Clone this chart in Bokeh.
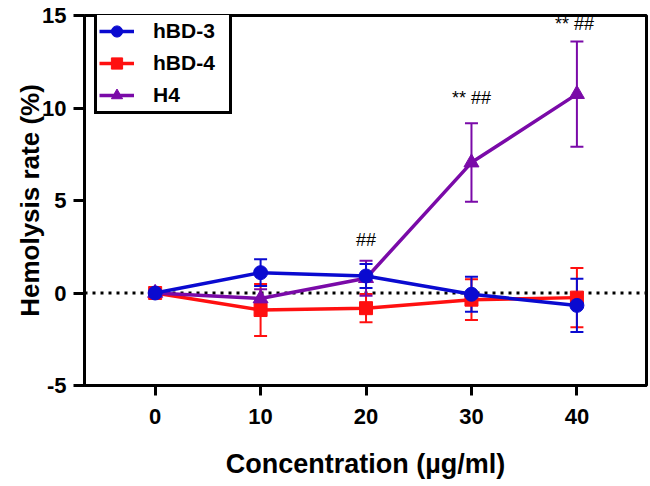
from bokeh.plotting import figure
from bokeh.models import ColumnDataSource, Whisker, TeeHead, Span, Legend, LegendItem, FixedTicker
from bokeh.core.properties import value
from bokeh.embed import file_html
from bokeh.resources import INLINE

# ---- data ----
conc = [0, 10, 20, 30, 40]
hbd3_mean = [0.0, 1.1, 0.92, -0.07, -0.67]
hbd3_err = [0.0, 0.72, 0.65, 0.95, 1.44]
hbd4_mean = [0.0, -0.92, -0.82, -0.36, -0.25]
hbd4_err = [0.0, 1.4, 0.76, 1.1, 1.6]
h4_mean = [0.0, -0.3, 0.8, 7.05, 10.75]
h4_err = [0.0, 0.5, 0.95, 2.12, 2.85]

series_names = ["hBD-3", "hBD-4", "H4"]
series_colors = ["#0a0ad0", "#ff1010", "#7a0aa8"]

ann_x = [20, 30, 40]
ann_y = [2.35, 10.0, 14.0]
ann_text = ["##", "** ##", "**  ##"]

x_ticks = [0, 10, 20, 30, 40]
x_tick_labels = ["0", "10", "20", "30", "40"]
y_ticks = [-5, 0, 5, 10, 15]
y_tick_labels = ["-5", "0", "5", "10", "15"]

FONT = "Liberation Sans"

p = figure(width=648, height=484, output_backend="svg", toolbar_location=None,
           x_range=(-6.7, 46.6), y_range=(-5, 15),
           min_border_left=84, min_border_right=2, min_border_top=15, min_border_bottom=99)
p.background_fill_color = "white"
p.border_fill_color = "white"
p.xgrid.visible = False
p.ygrid.visible = False
p.outline_line_color = "black"
p.outline_line_width = 3
p.outline_line_alpha = 1

# zero dotted line
p.add_layout(Span(location=0, dimension="width", line_color="black",
                  line_width=3, line_dash="3 5", level="underlay"))

means = [hbd3_mean, hbd4_mean, h4_mean]
errs = [hbd3_err, hbd4_err, h4_err]
markers = ["circle", "square", "triangle"]
sizes = [14, 13, 15]
draw_order = [1, 2, 0]

renderers = {}
for idx in draw_order:
    m = means[idx]
    e = errs[idx]
    col = series_colors[idx]
    src = ColumnDataSource(dict(x=conc, y=m,
                                upper=[a + b for a, b in zip(m, e)],
                                lower=[a - b for a, b in zip(m, e)]))
    w = Whisker(source=src, base="x", upper="upper", lower="lower",
                line_color=col, line_width=2,
                upper_head=TeeHead(size=13, line_color=col, line_width=2),
                lower_head=TeeHead(size=13, line_color=col, line_width=2))
    p.add_layout(w)
    l = p.line("x", "y", source=src, line_color=col, line_width=3.5)
    s = p.scatter("x", "y", source=src, marker=markers[idx], size=sizes[idx],
                  fill_color=col, line_color=col)
    renderers[idx] = [l, s]

# annotations
p.text(x=ann_x, y=ann_y, text=ann_text, text_font=value(FONT),
       text_font_size="18px", text_color="black", text_align="center",
       text_baseline="bottom")

# axes
p.xaxis.ticker = FixedTicker(ticks=x_ticks)
p.yaxis.ticker = FixedTicker(ticks=y_ticks)
p.xaxis.major_label_overrides = {t: l for t, l in zip(x_ticks, x_tick_labels)}
p.yaxis.major_label_overrides = {t: l for t, l in zip(y_ticks, y_tick_labels)}
for ax in (p.xaxis[0], p.yaxis[0]):
    ax.axis_line_width = 3
    ax.axis_line_color = "black"
    ax.major_tick_line_width = 3
    ax.major_tick_line_color = "black"
    ax.major_tick_in = 0
    ax.minor_tick_line_color = None
    ax.major_label_text_font = FONT
    ax.major_label_text_font_style = "bold"
    ax.major_label_text_font_size = "22px"
    ax.major_label_text_color = "black"
    ax.axis_label_text_font = FONT
    ax.axis_label_text_font_style = "bold"
    ax.axis_label_text_color = "black"
p.xaxis.axis_label_text_font_size = "27px"
p.yaxis.axis_label_text_font_size = "26px"
p.xaxis.major_tick_out = 10
p.yaxis.major_tick_out = 11
p.xaxis.major_label_standoff = 13
p.yaxis.major_label_standoff = 7
p.xaxis.axis_label = "Concentration (µg/ml)"
p.yaxis.axis_label = "Hemolysis rate (%)"
p.xaxis.axis_label_standoff = 22
p.yaxis.axis_label_standoff = -6

legend = Legend(items=[LegendItem(label=series_names[i], renderers=renderers[i]) for i in range(3)],
                location=(10, 271))
legend.label_text_font = FONT
legend.label_text_font_style = "bold"
legend.label_text_font_size = "21px"
legend.label_text_color = "black"
legend.border_line_color = "black"
legend.border_line_width = 3
legend.border_line_alpha = 1
legend.background_fill_alpha = 1
legend.glyph_width = 35
legend.glyph_height = 28
legend.label_height = 28
legend.label_standoff = 19
legend.label_width = 74
legend.spacing = 4
legend.padding = 2
legend.margin = 0
p.add_layout(legend)

open("out.html", "w").write(file_html(p, INLINE))
